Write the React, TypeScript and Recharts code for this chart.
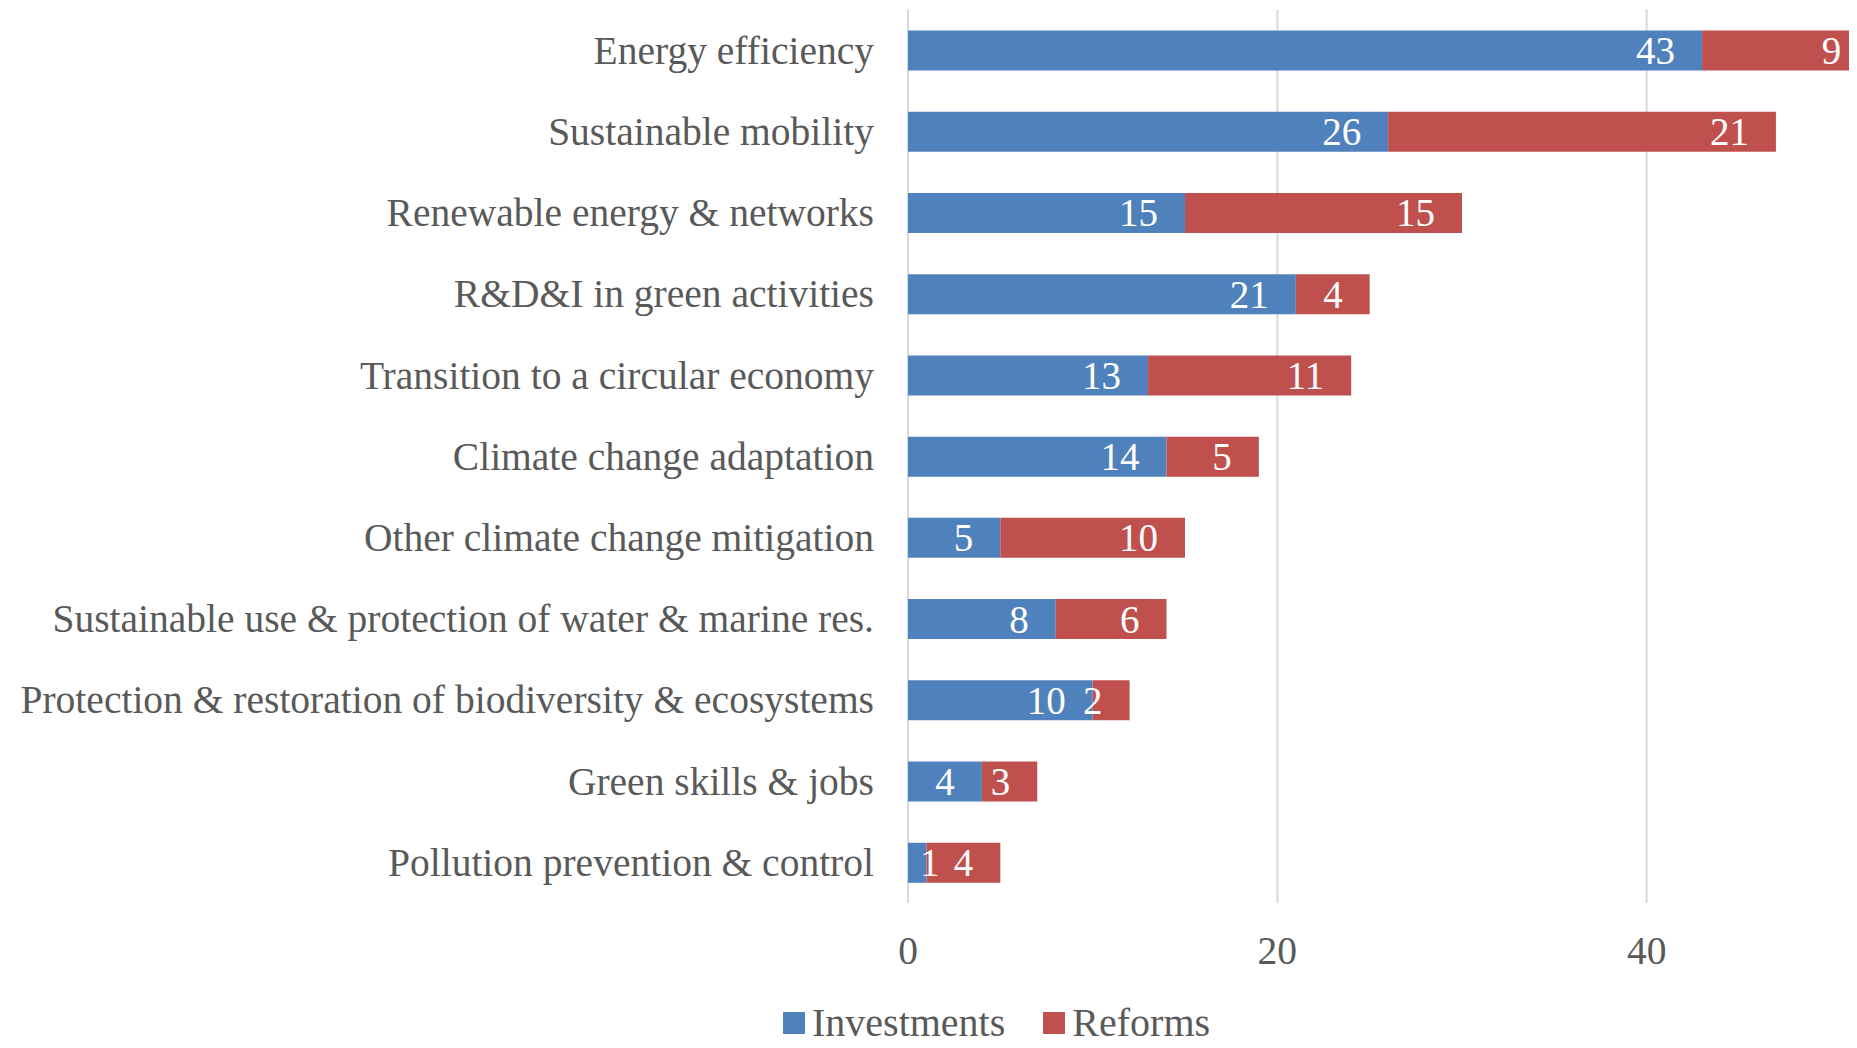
import React from 'react'
import { BarChart, Bar, XAxis, YAxis, CartesianGrid, Legend, LabelList } from 'recharts'

const categories = [
  'Energy efficiency',
  'Sustainable mobility',
  'Renewable energy & networks',
  'R&D&I in green activities',
  'Transition to a circular economy',
  'Climate change adaptation',
  'Other climate change mitigation',
  'Sustainable use & protection of water & marine res.',
  'Protection & restoration of biodiversity & ecosystems',
  'Green skills & jobs',
  'Pollution prevention & control',
]
const investments = [43, 26, 15, 21, 13, 14, 5, 8, 10, 4, 1]
const reforms = [9, 21, 15, 4, 11, 5, 10, 6, 2, 3, 4]
const xTicks = [0, 20, 40]
const seriesNames = ['Investments', 'Reforms']
const seriesColors = ['#4F81BD', '#C0504D']

const FONT = '"Liberation Serif", "Times New Roman", serif'
const TEXT = '#595959'

const data = categories.map((c, i) => ({
  category: c,
  investments: investments[i],
  reforms: reforms[i],
}))

// eslint-disable-next-line @typescript-eslint/no-explicit-any
function CatTick({ x, y, payload }: any) {
  return (
    <text x={x - 34} y={y + 13.5} textAnchor="end" fill={TEXT} fontSize={39.5} fontFamily={FONT}>
      {payload.value}
    </text>
  )
}

// eslint-disable-next-line @typescript-eslint/no-explicit-any
function ValTick({ x, y, payload }: any) {
  return (
    <text x={x} y={y + 60.5} textAnchor="middle" fill={TEXT} fontSize={39.5} fontFamily={FONT}>
      {payload.value}
    </text>
  )
}

// labels sit at the inner end of each segment, like Excel's "inside end"
const segLabel = (clampStart: boolean) =>
  // eslint-disable-next-line @typescript-eslint/no-explicit-any
  (props: any) => {
    const vb = props.viewBox ?? props
    const x = Number(props.x ?? vb.x)
    const y = Number(props.y ?? vb.y)
    const width = Number(props.width ?? vb.width)
    const height = Number(props.height ?? vb.height)
    const value = props.value
    const tw = String(value).length * 19.5
    let right = x + width - 27
    if (clampStart) right = Math.max(right, x + tw + 12)
    return (
      <text x={right} y={y + height / 2 + 13.5} textAnchor="end" fill="#ffffff" fontSize={39} fontFamily={FONT}>
        {value}
      </text>
    )
  }

function LegendContent() {
  return (
    <div style={{ display: 'flex', alignItems: 'center', height: 34, fontFamily: FONT, fontSize: 40, lineHeight: 0.85, color: TEXT }}>
      {seriesNames.map((n, i) => (
        <div key={n} style={{ display: 'flex', alignItems: 'center', marginRight: i === 0 ? 38 : 0 }}>
          <span style={{ display: 'inline-block', width: 22, height: 22, background: seriesColors[i], marginRight: 7 }} />
          <span>{n}</span>
        </div>
      ))}
    </div>
  )
}

export default function App() {
  return (
    <div style={{ width: 1849, height: 1040, overflow: 'hidden', position: 'relative' }}>
      <BarChart
        width={2008}
        height={1040}
        data={data}
        layout="vertical"
        margin={{ top: 1.5, right: 0, left: 0, bottom: 65 }}
        barCategoryGap={0}
      >
        <CartesianGrid horizontal={false} stroke="#D9D9D9" strokeWidth={2} />
        <XAxis
          type="number"
          domain={[0, 60]}
          ticks={xTicks}
          axisLine={false}
          tickLine={false}
          tickSize={0}
          tickMargin={0}
          height={80}
          tick={<ValTick />}
          interval={0}
        />
        <YAxis
          type="category"
          dataKey="category"
          width={900}
          axisLine={false}
          tickLine={false}
          tickSize={0}
          tickMargin={0}
          tick={<CatTick />}
          interval={0}
        />
        <Legend
          layout="horizontal"
          verticalAlign="middle"
          align="center"
          wrapperStyle={{ left: 775, top: 998, width: 'auto', height: 'auto' }}
          content={<LegendContent />}
        />
        <Bar dataKey="investments" name={seriesNames[0]} stackId="a" fill={seriesColors[0]} barSize={40} isAnimationActive={false}>
          <LabelList dataKey="investments" content={segLabel(true)} />
        </Bar>
        <Bar dataKey="reforms" name={seriesNames[1]} stackId="a" fill={seriesColors[1]} barSize={40} isAnimationActive={false}>
          <LabelList dataKey="reforms" content={segLabel(false)} />
        </Bar>
      </BarChart>
    </div>
  )
}
